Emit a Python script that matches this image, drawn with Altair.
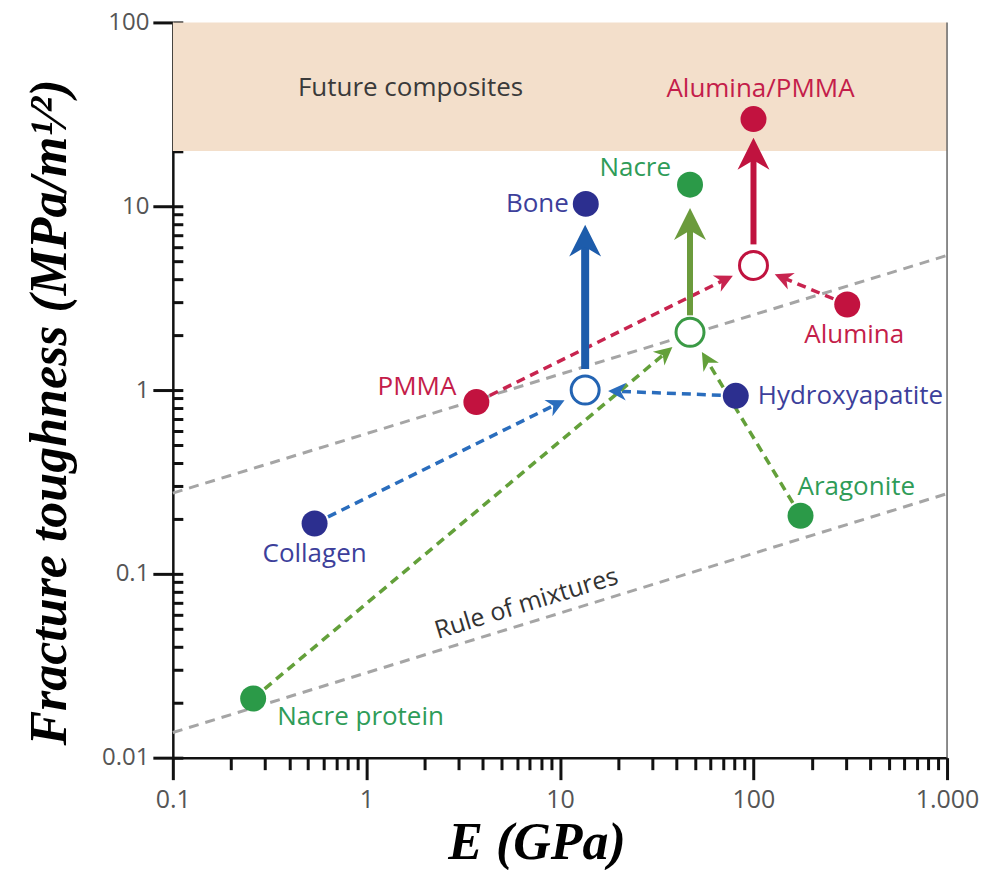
import math
import altair as alt
import pandas as pd

# ---------------- data ----------------
x_domain = [0.1, 1000]
y_domain = [0.01, 100]
x_major = [0.1, 1, 10, 100, 1000]
y_major = [0.01, 0.1, 1, 10, 100]
x_minor = [0.2, 0.3, 0.4, 0.5, 0.6, 0.7, 0.8, 0.9,
           2, 3, 4, 5, 6, 7, 8, 9,
           20, 30, 40, 50, 60, 70, 80, 90,
           200, 300, 400, 500, 600, 700, 800, 900]
y_minor = [0.02, 0.03, 0.04, 0.05, 0.06, 0.07, 0.08, 0.09,
           0.2, 0.3, 0.4, 0.5, 0.6, 0.7, 0.8, 0.9,
           2, 3, 4, 5, 6, 7, 8, 9,
           20, 30, 40, 50, 60, 70, 80, 90]

materials = ["Bone", "Nacre", "Alumina/PMMA", "PMMA", "Alumina",
             "Collagen", "Hydroxyapatite", "Nacre protein", "Aragonite"]
modulus = [13.6, 47, 100, 3.7, 305, 0.54, 81, 0.26, 175]
toughness = [10.3, 13.1, 29.8, 0.86, 2.92, 0.188, 0.93, 0.021, 0.207]
family = ["blue", "green", "red", "red", "red", "blue", "blue", "green", "green"]

comp_names = ["Bone", "Nacre", "Alumina/PMMA"]
comp_family = ["blue", "green", "red"]
comp_modulus = [13.5, 47, 100]
comp_toughness = [1.0, 2.06, 4.76]
arrow_start = [1.3, 2.55, 6.2]
arrow_head = [6.5, 8.0, 19.3]

link_from = ["PMMA", "Alumina", "Collagen", "Hydroxyapatite", "Nacre protein", "Aragonite"]
link_to = ["Alumina/PMMA", "Alumina/PMMA", "Bone", "Bone", "Nacre", "Nacre"]

rom_x = [0.1, 1000]
rom_upper = [0.275, 5.4]
rom_lower = [0.0137, 0.273]

shade_toughness = [20, 100]

future_label = ["Future composites"]
future_pos = [1.69, 44]
rom_label = ["Rule of mixtures"]
rom_label_pos = [6.7, 0.069]

# ---------------- styles ----------------
W, H = 775, 736
FONT = "Open Sans"
POINT_COL = {"blue": "#2c2f8f", "green": "#2b9a48", "red": "#c2123f"}
LABEL_COL = {"blue": "#3d3f9b", "green": "#2f9c58", "red": "#c41d4a"}
DASH_COL = {"blue": "#2a6dbd", "green": "#63a03a", "red": "#c8244f"}
ARROW_COL = {"blue": "#1d5cab", "green": "#6b9b3c", "red": "#c0133f"}
RING_COL = {"blue": "#2364b3", "green": "#3a9a45", "red": "#c0133f"}
SHAFT_W = {"blue": 8, "green": 6, "red": 6}
ARROW_PATH = "M0,-1L1,1L0,0.4L-1,1Z"
HEAD_GAP = 32
LABEL_STYLE = {
    "Bone": ("right", -17, 0),
    "Nacre": ("right", -19, -17),
    "Alumina/PMMA": ("center", 7, -30),
    "PMMA": ("right", -20, -15),
    "Alumina": ("center", 7, 31),
    "Collagen": ("center", 0, 31),
    "Hydroxyapatite": ("left", 22, 0),
    "Nacre protein": ("left", 24, 19),
    "Aragonite": ("left", -3, -29),
}

fams = ["blue", "green", "red"]
def cscale(d):
    return alt.Scale(domain=fams, range=[d[f] for f in fams])

lx0, lx1 = math.log10(x_domain[0]), math.log10(x_domain[1])
ly0, ly1 = math.log10(y_domain[0]), math.log10(y_domain[1])

def to_px(x, y):
    return ((math.log10(x) - lx0) / (lx1 - lx0) * W,
            (ly1 - math.log10(y)) / (ly1 - ly0) * H)

def from_px(px, py):
    return (10 ** (lx0 + px / W * (lx1 - lx0)),
            10 ** (ly1 - py / H * (ly1 - ly0)))

pts = pd.DataFrame({"name": materials, "E": modulus, "K": toughness, "family": family})
idx = {n: i for i, n in enumerate(materials)}
cidx = {n: i for i, n in enumerate(comp_names)}

# dashed links with arrowheads
line_rows, head_rows = [], []
for i, (s, t) in enumerate(zip(link_from, link_to)):
    sx, sy = modulus[idx[s]], toughness[idx[s]]
    tx, ty = comp_modulus[cidx[t]], comp_toughness[cidx[t]]
    psx, psy = to_px(sx, sy)
    ptx, pty = to_px(tx, ty)
    dx, dy = ptx - psx, pty - psy
    L = math.hypot(dx, dy)
    ux, uy = dx / L, dy / L
    hx, hy = from_px(ptx - ux * HEAD_GAP, pty - uy * HEAD_GAP)
    fam = family[idx[s]]
    line_rows.append({"link": i, "o": 0, "E": sx, "K": sy, "family": fam})
    line_rows.append({"link": i, "o": 1, "E": hx, "K": hy, "family": fam})
    ang = math.degrees(math.atan2(ux, -uy)) % 360
    head_rows.append({"E": hx, "K": hy, "angle": ang, "family": fam})
links = pd.DataFrame(line_rows)
heads = pd.DataFrame(head_rows)

comps = pd.DataFrame({"name": comp_names, "E": comp_modulus, "K": comp_toughness,
                      "K0": arrow_start, "K1": arrow_head, "family": comp_family,
                      "w": [SHAFT_W[f] for f in comp_family]})

rom = pd.DataFrame({"line": ["u", "u", "l", "l"],
                    "E": rom_x + rom_x,
                    "K": rom_upper + rom_lower})

shade = pd.DataFrame({"E0": [x_domain[0]], "E1": [x_domain[1]],
                      "K0": [shade_toughness[0]], "K1": [shade_toughness[1]]})
border = pd.DataFrame({"E": [x_domain[1]], "K0": [y_domain[0]], "K1": [y_domain[1]]})

xs = alt.Scale(type="log", domain=x_domain, nice=False)
ys = alt.Scale(type="log", domain=y_domain, nice=False)

def X(f, axis=None):
    return alt.X(f, type="quantitative", scale=xs, axis=axis)

def Y(f, axis=None):
    return alt.Y(f, type="quantitative", scale=ys, axis=axis)

lab_expr = "datum.value >= 1000 ? '1.000' : format(datum.value, '~g')"

x_axis_major = alt.Axis(orient="bottom", values=x_major, tickSize=22, tickWidth=3,
                        tickColor="#111", domainColor="#111", domainWidth=2.5,
                        labelFont=FONT, labelFontSize=25, labelColor="#555",
                        labelPadding=8, labelExpr=lab_expr, labelFlush=False,
                        labelOverlap=False, grid=False,
                        title="E (GPa)", titleFont="Liberation Serif",
                        titleFontStyle="italic", titleFontWeight="bold",
                        titleFontSize=52, titleColor="#000",
                        titleX=364, titleY=101, titleAlign="center",
                        titleBaseline="alphabetic")
y_axis_major = alt.Axis(orient="left", values=y_major, tickSize=20, tickWidth=3,
                        tickColor="#111", domainColor="#111", domainWidth=2.5,
                        labelFont=FONT, labelFontSize=24, labelColor="#555",
                        labelPadding=4, labelExpr=lab_expr, labelFlush=False,
                        labelOverlap=False, grid=False,
                        title="Fracture toughness (MPa/m¹⁄²)",
                        titleFont="Liberation Serif", titleFontStyle="italic",
                        titleFontWeight="bold", titleFontSize=52, titleColor="#000",
                        titleX=-123, titleY=390, titleAngle=270,
                        titleAlign="center", titleBaseline="middle")
x_axis_minor = alt.Axis(orient="bottom", values=x_minor, tickSize=12, tickWidth=3,
                        tickColor="#111", domain=False, labels=False, grid=False,
                        title=None)
y_axis_inward = alt.Axis(orient="right", offset=-W, values=y_minor + y_major,
                         tickSize=10, tickWidth=3, tickColor="#111", domain=False,
                         labels=False, grid=False, title=None)

layers = []
layers.append(alt.Chart(shade).mark_rect(color="#f3dfcb").encode(
    x=X("E0"), x2="E1", y=Y("K0"), y2="K1"))
layers.append(alt.Chart(border).mark_rule(color="#666", strokeWidth=1.5).encode(
    x=X("E"), y=Y("K0"), y2="K1"))
layers.append(alt.Chart(rom).mark_line(color="#a5a5a5", strokeDash=[10, 7],
                                       strokeWidth=3).encode(
    x=X("E", x_axis_major), y=Y("K", y_axis_major), detail="line:N"))
layers.append(alt.Chart(links).mark_line(strokeDash=[9, 6], strokeWidth=3.5).encode(
    x=X("E", x_axis_minor), y=Y("K", y_axis_inward), detail="link:N", order="o:Q",
    color=alt.Color("family:N", scale=cscale(DASH_COL), legend=None)))
layers.append(alt.Chart(heads).mark_point(shape=ARROW_PATH, filled=True, size=324,
                                          opacity=1).encode(
    x=X("E"), y=Y("K"), angle=alt.Angle("angle:Q", scale=None),
    color=alt.Color("family:N", scale=cscale(DASH_COL), legend=None)))
layers.append(alt.Chart(comps).mark_rule().encode(
    x=X("E"), y=Y("K0"), y2="K1",
    strokeWidth=alt.StrokeWidth("w:Q", scale=None),
    color=alt.Color("family:N", scale=cscale(ARROW_COL), legend=None)))
layers.append(alt.Chart(comps).mark_point(shape=ARROW_PATH, filled=True, size=1024,
                                          opacity=1).encode(
    x=X("E"), y=Y("K1"),
    color=alt.Color("family:N", scale=cscale(ARROW_COL), legend=None)))
layers.append(alt.Chart(comps).mark_point(shape="circle", size=784, filled=False,
                                          fill="white", fillOpacity=1,
                                          strokeWidth=3, opacity=1).encode(
    x=X("E"), y=Y("K"),
    stroke=alt.Stroke("family:N", scale=cscale(RING_COL), legend=None)))
layers.append(alt.Chart(pts).mark_circle(size=676, opacity=1).encode(
    x=X("E"), y=Y("K"),
    color=alt.Color("family:N", scale=cscale(POINT_COL), legend=None)))
for name in materials:
    al, ddx, ddy = LABEL_STYLE[name]
    fam = family[idx[name]]
    layers.append(alt.Chart(pts[pts["name"] == name]).mark_text(
        align=al, baseline="middle", dx=ddx, dy=ddy, font=FONT, fontSize=26,
        color=LABEL_COL[fam]).encode(x=X("E"), y=Y("K"), text="name:N"))

ann = pd.DataFrame({"t": future_label, "E": [future_pos[0]], "K": [future_pos[1]]})
layers.append(alt.Chart(ann).mark_text(align="center", baseline="middle", font=FONT,
                                       fontSize=26, color="#3a3a3a").encode(
    x=X("E"), y=Y("K"), text="t:N"))
ann2 = pd.DataFrame({"t": rom_label, "E": [rom_label_pos[0]], "K": [rom_label_pos[1]]})
layers.append(alt.Chart(ann2).mark_text(align="center", baseline="middle", font=FONT,
                                        fontSize=25, color="#333", angle=343).encode(
    x=X("E"), y=Y("K"), text="t:N"))

chart = alt.layer(*layers).properties(
    width=W, height=H,
    padding={"left": 165, "top": 14, "right": 40, "bottom": 112},
    autosize=alt.AutoSizeParams(type="none"),
).resolve_axis(x="independent", y="independent").resolve_scale(
    color="independent", stroke="independent").configure_view(stroke=None)

chart.save("out.html", embed_options={"renderer": "svg", "actions": False})
